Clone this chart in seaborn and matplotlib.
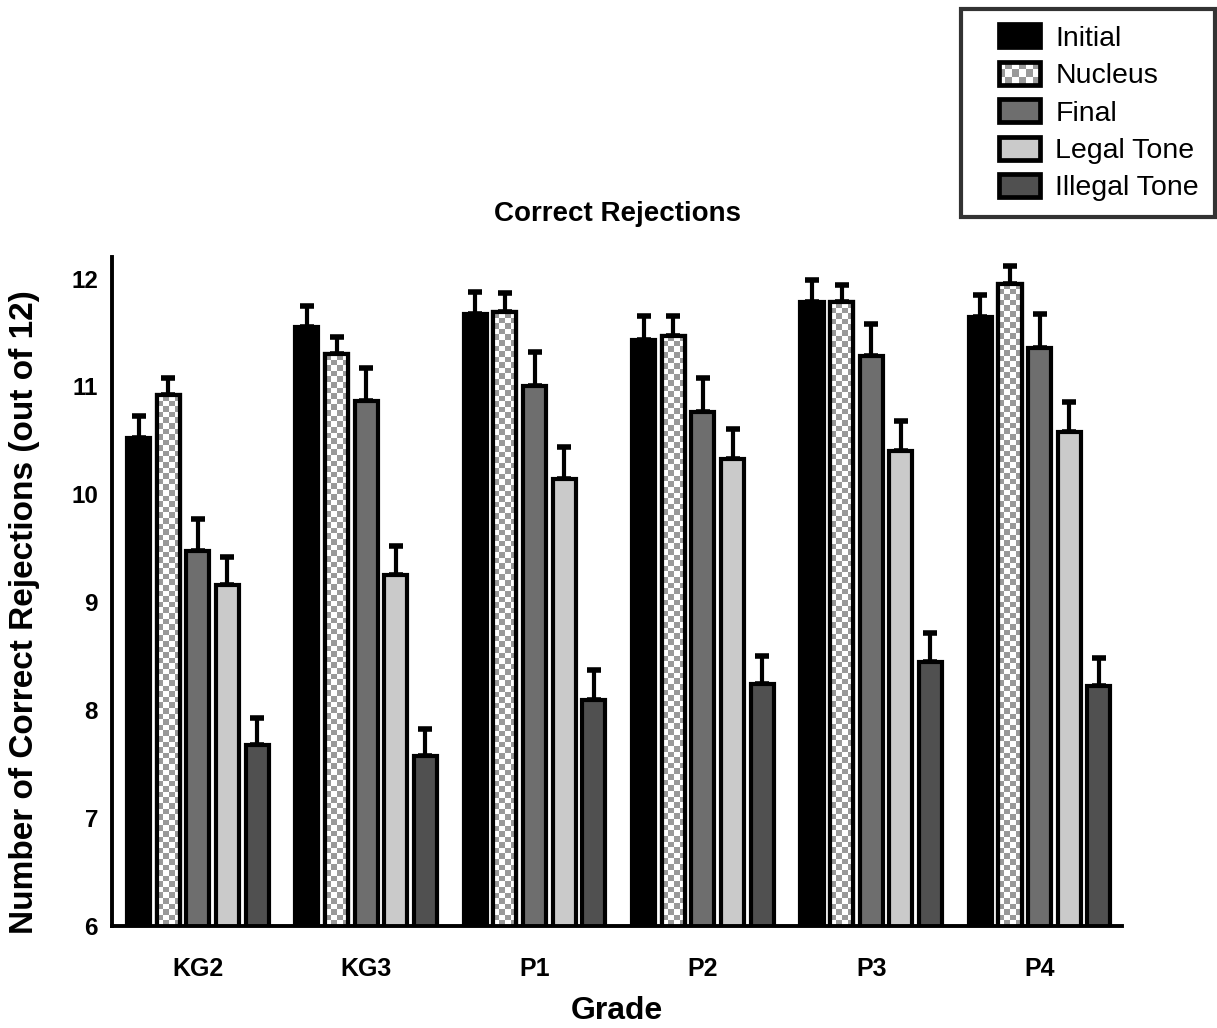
import numpy as np
import pandas as pd
import matplotlib
matplotlib.use("Agg")
import matplotlib.pyplot as plt
import seaborn as sns
from matplotlib.patches import Rectangle, Patch
from matplotlib.legend_handler import HandlerBase
from matplotlib.container import BarContainer

grades = ['KG2', 'KG3', 'P1', 'P2', 'P3', 'P4']
series = ['Initial', 'Nucleus', 'Final', 'Legal Tone', 'Illegal Tone']

initial = [10.52, 11.55, 11.67, 11.43, 11.78, 11.64]
initial_err = [0.21, 0.20, 0.21, 0.22, 0.21, 0.21]
nucleus = [10.92, 11.30, 11.69, 11.47, 11.78, 11.95]
nucleus_err = [0.16, 0.16, 0.18, 0.18, 0.16, 0.17]
final = [9.48, 10.87, 11.00, 10.76, 11.28, 11.36]
final_err = [0.29, 0.30, 0.32, 0.32, 0.30, 0.31]
legal = [9.16, 9.25, 10.14, 10.33, 10.40, 10.58]
legal_err = [0.26, 0.27, 0.30, 0.28, 0.28, 0.28]
illegal = [7.68, 7.58, 8.09, 8.24, 8.45, 8.22]
illegal_err = [0.25, 0.25, 0.28, 0.26, 0.27, 0.26]

values = [initial, nucleus, final, legal, illegal]
errors = [initial_err, nucleus_err, final_err, legal_err, illegal_err]
colors = ['#000000', '#ffffff', '#6e6e6e', '#cacaca', '#505050']

rows = []
for s, vals in zip(series, values):
    for g, v in zip(grades, vals):
        rows.append({'Grade': g, 'Series': s, 'Value': v})
df = pd.DataFrame(rows)

sns.set_style("white")
plt.rcParams['font.family'] = ['Liberation Sans', 'DejaVu Sans']
plt.rcParams['text.color'] = 'black'
plt.rcParams['axes.labelcolor'] = 'black'
plt.rcParams['xtick.color'] = 'black'
plt.rcParams['ytick.color'] = 'black'

fig = plt.figure(figsize=(12.17, 10.28), dpi=100)
ax = fig.add_axes([0.092, 0.0992, 0.830, 0.6508])

sns.barplot(data=df, x='Grade', y='Value', hue='Series', order=grades,
            hue_order=series, palette=colors, width=0.88, gap=0.22,
            edgecolor='black', linewidth=3.0, saturation=1, legend=False,
            errorbar=None, ax=ax, zorder=2)

bar_containers = [c for c in ax.containers if isinstance(c, BarContainer)]

ymin, ymax = 6, 12.2
checker_gray = '#9a9a9a'
for si, cont in enumerate(bar_containers):
    xs = [p.get_x() + p.get_width() / 2 for p in cont.patches]
    ax.errorbar(xs, values[si], yerr=[np.zeros(len(xs)), errors[si]], fmt='none',
                ecolor='black', elinewidth=3.0, capsize=5, capthick=4.0, zorder=1)
    if series[si] == 'Nucleus':
        for p in cont.patches:
            x0, w, h = p.get_x(), p.get_width(), p.get_height()
            nrow = max(1, int(round((h - ymin) * 107.8 / 5.6)))
            ncol = 4
            grid = (np.add.outer(np.arange(nrow), np.arange(ncol)) % 2).astype(float)
            img = np.where(grid[..., None] > 0, np.array([0.60, 0.60, 0.60]), np.array([1.0, 1.0, 1.0]))
            ax.imshow(img, extent=(x0, x0 + w, ymin, h), origin='lower', aspect='auto',
                      interpolation='nearest', zorder=2.5)
            ax.add_patch(Rectangle((x0, 0), w, h, facecolor='none', edgecolor='black',
                                   linewidth=3.0, zorder=3))

ax.set_xlim(-0.51, 5.49)
ax.set_ylim(ymin, ymax)
ax.set_yticks([6, 7, 8, 9, 10, 11, 12])
sns.despine(ax=ax)
for sp in ['left', 'bottom']:
    ax.spines[sp].set_linewidth(2.8)
    ax.spines[sp].set_color('black')
ax.tick_params(axis='both', which='major', direction='out', width=2.8,
               color='black', labelcolor='black')
ax.tick_params(axis='y', labelsize=17.5, length=9, pad=1)
ax.tick_params(axis='x', length=7, pad=15, labelsize=18)
for lab in ax.get_xticklabels() + ax.get_yticklabels():
    lab.set_fontweight('bold')

ax.set_title('Correct Rejections', fontsize=20, fontweight='bold', pad=26, color='black')
ax.set_xlabel('Grade', fontsize=23, fontweight='bold', labelpad=11, color='black')
ax.set_ylabel('Number of Correct Rejections (out of 12)', fontsize=24,
              fontweight='bold', color='black')
ax.yaxis.set_label_coords(-0.071, 0.469)

LEG_FS = 20.5
RECT_W = 29.5
RECT_H = 16.6


class BoxHandler(HandlerBase):
    def __init__(self, checker=False):
        super().__init__()
        self.checker = checker

    def create_artists(self, legend, orig_handle, xdescent, ydescent, width, height,
                       fontsize, trans):
        arts = []
        x0 = -xdescent + width - RECT_W
        y0 = -ydescent + (height - RECT_H) / 2
        if self.checker:
            nx, ny = 6, 3
            w = RECT_W / nx
            h = RECT_H / ny
            for i in range(nx):
                for j in range(ny):
                    c = checker_gray if (i + j) % 2 else 'white'
                    arts.append(Rectangle((x0 + i * w, y0 + j * h), w, h,
                                          facecolor=c, edgecolor='none', transform=trans))
            fc = 'none'
        else:
            fc = orig_handle.get_facecolor()
        arts.append(Rectangle((x0, y0), RECT_W, RECT_H, facecolor=fc,
                              edgecolor='black', linewidth=3.4, transform=trans))
        return arts


handles = []
for s, c in zip(series, colors):
    handles.append(Patch(facecolor=c, edgecolor='black', linewidth=3.2, label=s))
hmap = {h: BoxHandler(checker=(s == 'Nucleus')) for h, s in zip(handles, series)}

leg = fig.legend(handles=handles, labels=series, loc='upper right',
                 bbox_to_anchor=(0.998, 0.991), fontsize=LEG_FS, frameon=True,
                 fancybox=False, handlelength=2.2, handleheight=0.81,
                 labelspacing=0.37, borderpad=0.55, handletextpad=0.55,
                 borderaxespad=0.0, handler_map=hmap)
leg.get_frame().set_edgecolor('black')
leg.get_frame().set_linewidth(3.0)
for t in leg.get_texts():
    t.set_color('black')

fig.savefig('out.png', dpi=100)
